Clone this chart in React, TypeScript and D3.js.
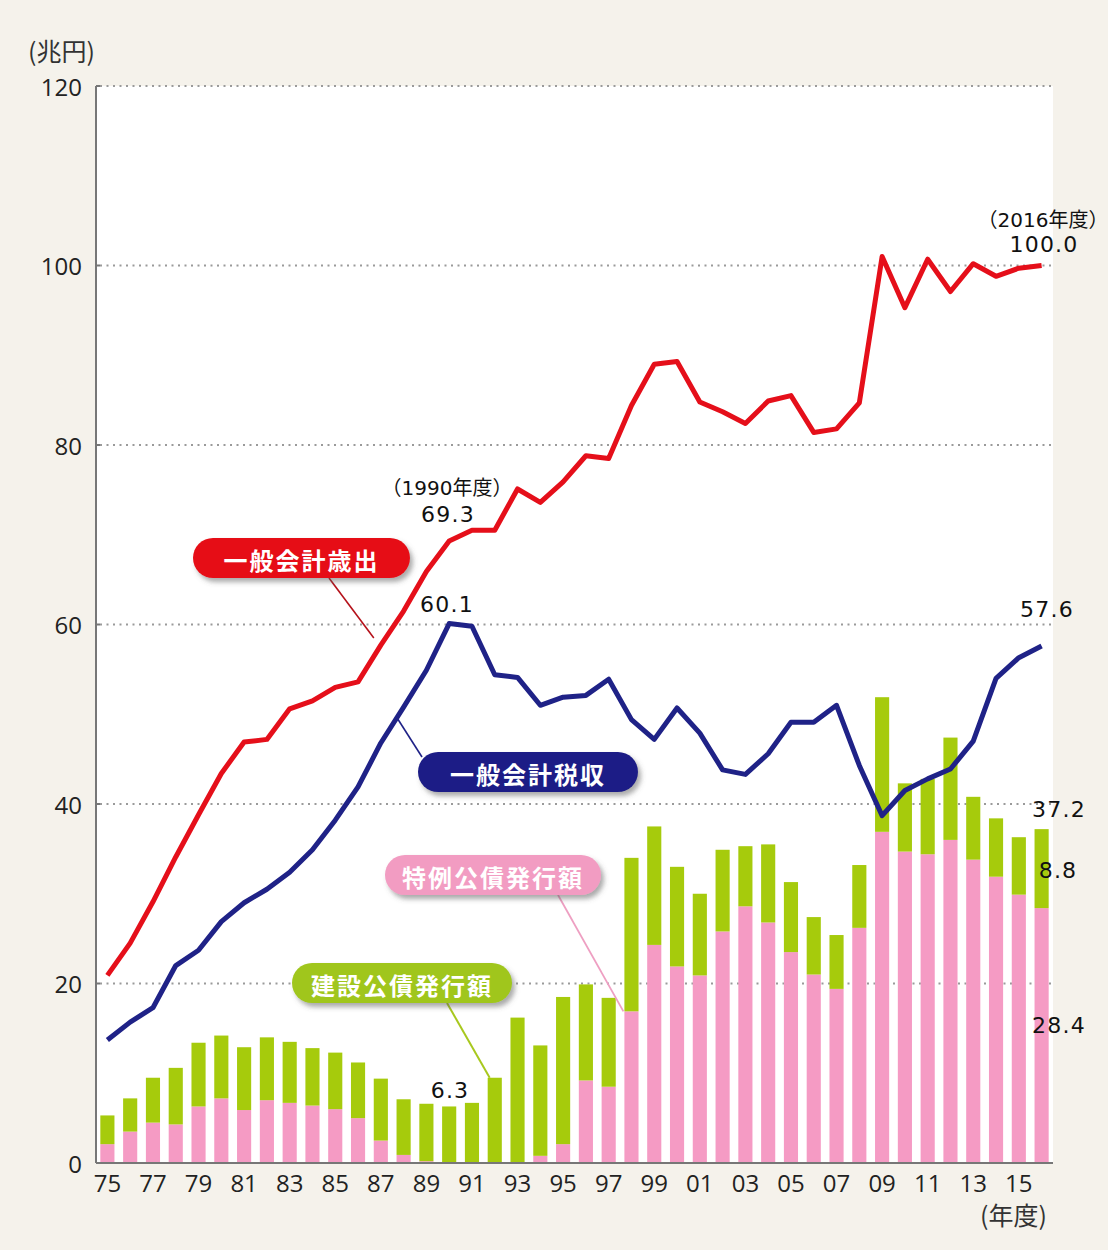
import React from "react";
import * as d3 from "d3";

// ---- data (兆円) ----
const years = [
  1975, 1976, 1977, 1978, 1979, 1980, 1981, 1982, 1983, 1984, 1985, 1986, 1987, 1988,
  1989, 1990, 1991, 1992, 1993, 1994, 1995, 1996, 1997, 1998, 1999, 2000, 2001, 2002,
  2003, 2004, 2005, 2006, 2007, 2008, 2009, 2010, 2011, 2012, 2013, 2014, 2015, 2016,
];
const expenditure = [
  20.9, 24.5, 29.1, 34.1, 38.8, 43.4, 46.9, 47.2, 50.6, 51.5, 53.0, 53.6, 57.7, 61.5,
  65.9, 69.3, 70.5, 70.5, 75.1, 73.6, 75.9, 78.8, 78.5, 84.4, 89.0, 89.3, 84.8, 83.7,
  82.4, 84.9, 85.5, 81.4, 81.8, 84.7, 101.0, 95.3, 100.7, 97.1, 100.2, 98.8, 99.7, 100.0,
];
const taxRevenue = [
  13.7, 15.7, 17.3, 22.0, 23.7, 26.9, 29.0, 30.5, 32.4, 34.9, 38.2, 41.9, 46.8, 50.8,
  54.9, 60.1, 59.8, 54.4, 54.1, 51.0, 51.9, 52.1, 53.9, 49.4, 47.2, 50.7, 47.9, 43.8,
  43.3, 45.6, 49.1, 49.1, 51.0, 44.3, 38.7, 41.5, 42.8, 43.9, 47.0, 54.0, 56.3, 57.6,
];
const specialBonds = [
  2.1, 3.5, 4.5, 4.3, 6.3, 7.2, 5.9, 7.0, 6.7, 6.4, 6.0, 5.0, 2.5, 0.9,
  0.2, 0, 0, 0, 0, 0.8, 2.1, 9.2, 8.5, 16.9, 24.3, 21.9, 20.9, 25.8,
  28.6, 26.8, 23.5, 21.0, 19.4, 26.2, 36.9, 34.7, 34.4, 36.0, 33.8, 31.9, 29.9, 28.4,
];
const constructionBonds = [
  3.2, 3.7, 5.0, 6.3, 7.1, 7.0, 7.0, 7.0, 6.8, 6.4, 6.3, 6.2, 6.9, 6.2,
  6.4, 6.3, 6.7, 9.5, 16.2, 12.3, 16.4, 10.7, 9.9, 17.1, 13.2, 11.1, 9.1, 9.1,
  6.7, 8.7, 7.8, 6.4, 6.0, 7.0, 15.0, 7.6, 8.4, 11.4, 7.0, 6.5, 6.4, 8.8,
];
const xTickYears = [
  1975, 1977, 1979, 1981, 1983, 1985, 1987, 1989, 1991, 1993, 1995, 1997, 1999, 2001,
  2003, 2005, 2007, 2009, 2011, 2013, 2015,
];
const xTickLabels = [
  "75", "77", "79", "81", "83", "85", "87", "89", "91", "93", "95", "97", "99", "01",
  "03", "05", "07", "09", "11", "13", "15",
];
const yTicks = [0, 20, 40, 60, 80, 100, 120];

// ---- styling ----
const W = 1108;
const H = 1250;
const L = 96;
const R = 1053;
const T = 86;
const B = 1163;
const RED = "#e50f1a";
const NAVY = "#1f2287";
const PINK = "#f59bc4";
const GREEN = "#a6cb0c";
const NUM_FONT = "'DejaVu Sans', 'Noto Sans CJK JP', sans-serif";
const TICK_FONT = "'Open Sans', 'Noto Sans', sans-serif";
const JP_FONT = "'Noto Sans CJK JP', sans-serif";

export default function App() {
  const x = d3.scaleBand<number>().domain(years).range([L, R]).paddingInner(0.38).paddingOuter(0.19);
  const y = d3.scaleLinear().domain([0, 120]).range([B, T]);
  const cx = (yr: number) => (x(yr) as number) + x.bandwidth() / 2;

  const lineGen = d3
    .line<number>()
    .x((_, i) => cx(years[i]))
    .y((d) => y(d));

  const idx = (yr: number) => years.indexOf(yr);

  const numLabel = (txt: string, px: number, py: number, anchor = "middle") => (
    <text x={px} y={py} fontFamily={NUM_FONT} fontSize={22} letterSpacing={1.2} textAnchor={anchor} fill="#111">
      {txt}
    </text>
  );

  const pill = (label: string, x0: number, y0: number, w: number, color: string) => (
    <g>
      <rect x={x0} y={y0} width={w} height={40} rx={20} ry={20} fill={color} filter="url(#shadow)" />
      <text
        x={x0 + w / 2}
        y={y0 + 21}
        dominantBaseline="central"
        textAnchor="middle"
        fontFamily={JP_FONT}
        fontWeight={700}
        fontSize={24}
        letterSpacing={2}
        fill="#fff"
      >
        {label}
      </text>
    </g>
  );

  return (
    <svg width={W} height={H} style={{ position: "absolute", left: 0, top: 0 }}>
      <defs>
        <filter id="shadow" x="-10%" y="-30%" width="125%" height="170%">
          <feDropShadow dx="3" dy="4" stdDeviation="2.5" floodColor="#555" floodOpacity="0.5" />
        </filter>
      </defs>
      <rect x={0} y={0} width={W} height={H} fill="#f5f2eb" />
      <rect x={L} y={T} width={R - L} height={B - T} fill="#fff" />

      {/* gridlines */}
      {yTicks
        .filter((t) => t > 0)
        .map((t) => (
          <g key={t}>
            <line x1={L + 4} x2={R} y1={y(t)} y2={y(t)} stroke="#9a9a9a" strokeWidth={2} strokeDasharray="2,4.5" />
            <line x1={L} x2={L + 4} y1={y(t)} y2={y(t)} stroke="#777" strokeWidth={2} />
          </g>
        ))}

      {/* stacked bars */}
      {years.map((yr, i) => {
        const bx = x(yr) as number;
        const bw = x.bandwidth();
        const s = specialBonds[i];
        const c = constructionBonds[i];
        return (
          <g key={yr}>
            {s > 0 && <rect x={bx} y={y(s)} width={bw} height={y(0) - y(s)} fill={PINK} />}
            <rect x={bx} y={y(s + c)} width={bw} height={y(s) - y(s + c)} fill={GREEN} />
          </g>
        );
      })}

      {/* axes */}
      <line x1={L} x2={L} y1={T} y2={B} stroke="#777" strokeWidth={2} />
      <line x1={L} x2={R} y1={B} y2={B} stroke="#777" strokeWidth={2} />

      {yTicks.map((t) => (
        <text key={t} x={82} y={y(t)} dominantBaseline="central" textAnchor="end" fontFamily={TICK_FONT} fontSize={24} fill="#222">
          {t}
        </text>
      ))}
      {xTickYears.map((yr, i) => (
        <text key={yr} x={cx(yr)} y={1192} textAnchor="middle" fontFamily={TICK_FONT} fontSize={24} fill="#222">
          {xTickLabels[i]}
        </text>
      ))}
      <text x={28} y={61} fontFamily={JP_FONT} fontSize={25} fill="#333">(兆円)</text>
      <text x={1047} y={1225} textAnchor="end" fontFamily={JP_FONT} fontSize={25} fill="#333">(年度)</text>

      {/* lines */}
      <path d={lineGen(expenditure) || ""} fill="none" stroke={RED} strokeWidth={5} strokeLinejoin="round" />
      <path d={lineGen(taxRevenue) || ""} fill="none" stroke={NAVY} strokeWidth={5} strokeLinejoin="round" />

      {/* leader lines */}
      <line x1={329} y1={578} x2={cx(1987) - 7} y2={y(58.5)} stroke="#b5121b" strokeWidth={1.6} />
      <line x1={cx(1988) - 6} y1={y(49.5)} x2={422} y2={757} stroke={NAVY} strokeWidth={1.6} />
      <line x1={558} y1={895} x2={(x(1998) as number) - 1} y2={y(specialBonds[idx(1998)])} stroke="#ee9fc2" strokeWidth={1.8} />
      <line x1={447} y1={1003} x2={(x(1992) as number) + 2} y2={y(constructionBonds[idx(1992)])} stroke="#a8c81e" strokeWidth={2} />

      {/* callouts */}
      {pill("一般会計歳出", 193, 538, 217, "#e60f19")}
      {pill("一般会計税収", 418, 752, 220, "#1e1f86")}
      {pill("特例公債発行額", 385, 855, 216, "#f29cc2")}
      {pill("建設公債発行額", 292, 963, 220, "#a0c61c")}

      {/* value labels */}
      <text x={447} y={495} fontFamily={NUM_FONT} fontSize={20} textAnchor="middle" fill="#111">（1990年度）</text>
      {numLabel(expenditure[idx(1990)].toFixed(1), 448, 522)}
      {numLabel(taxRevenue[idx(1990)].toFixed(1), 447, 612)}
      <text x={1043} y={227} fontFamily={NUM_FONT} fontSize={20} textAnchor="middle" fill="#111">（2016年度）</text>
      {numLabel(expenditure[idx(2016)].toFixed(1), 1044, 252)}
      {numLabel(taxRevenue[idx(2016)].toFixed(1), 1047, 617)}
      {numLabel((specialBonds[idx(2016)] + constructionBonds[idx(2016)]).toFixed(1), 1059, 817)}
      {numLabel(constructionBonds[idx(2016)].toFixed(1), 1058, 878)}
      {numLabel(specialBonds[idx(2016)].toFixed(1), 1059, 1033)}
      {numLabel(constructionBonds[idx(1990)].toFixed(1), 450, 1098)}
    </svg>
  );
}
